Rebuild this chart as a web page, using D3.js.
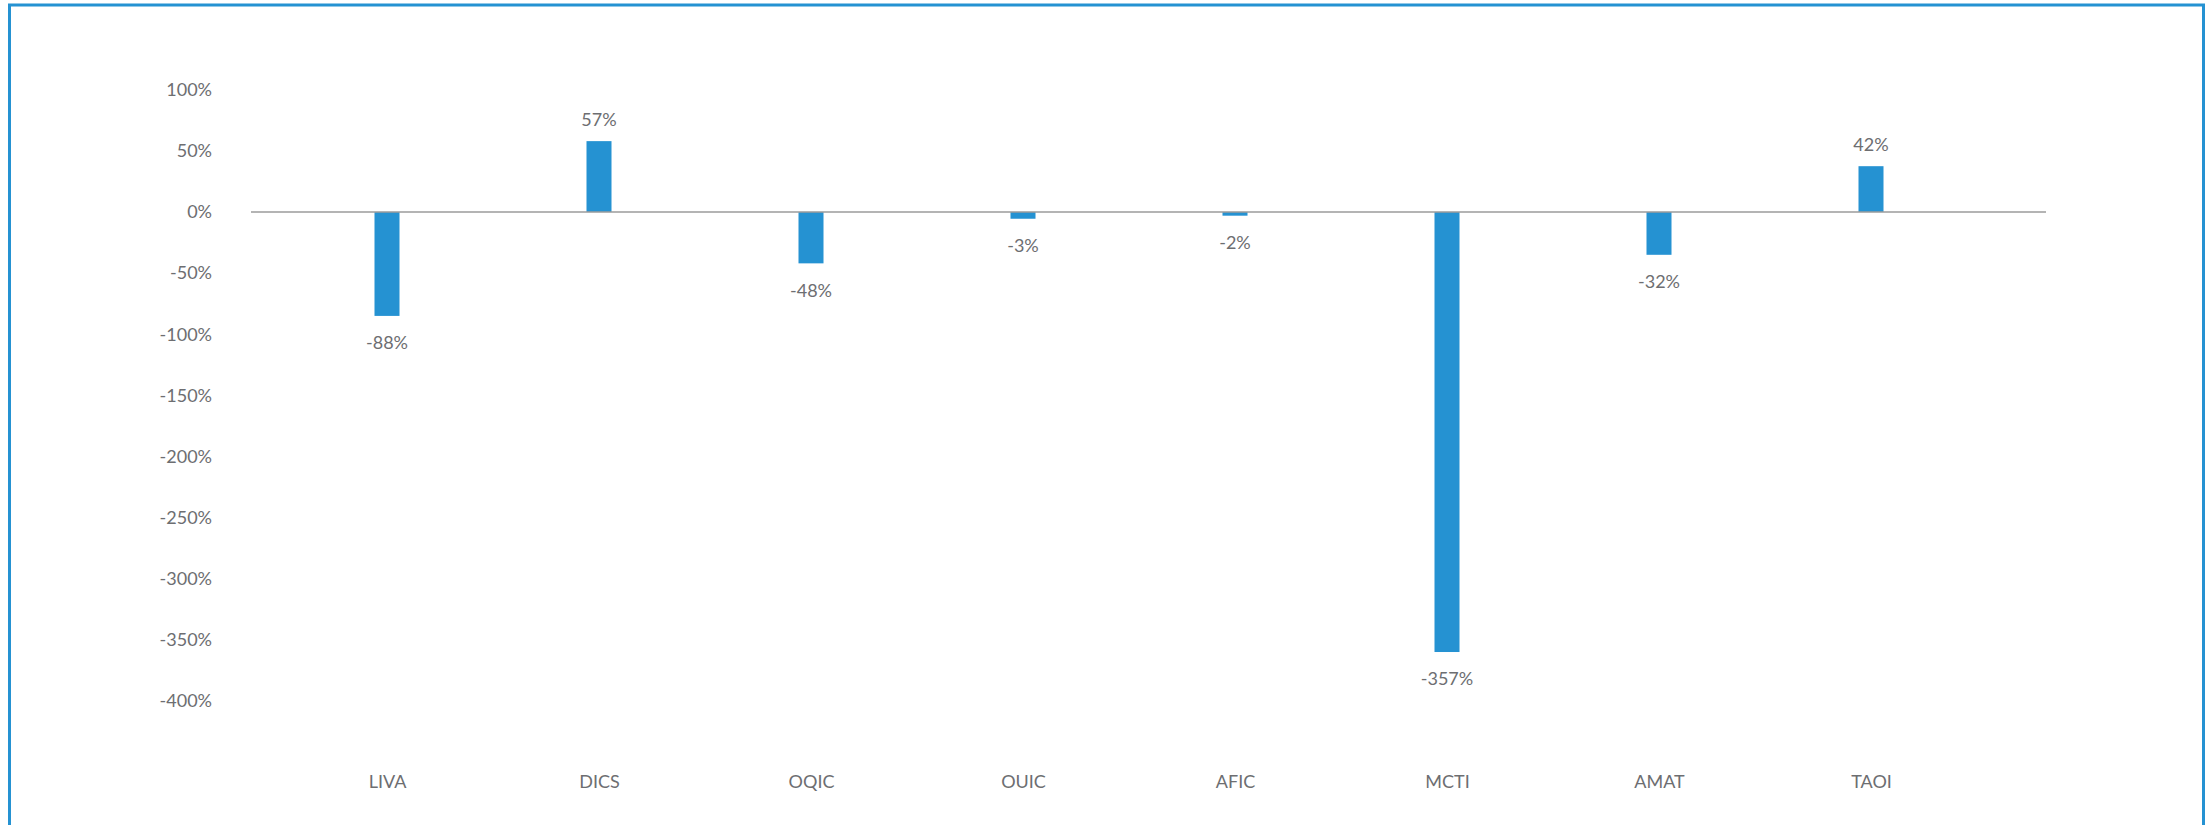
<!DOCTYPE html>
<html>
<head>
<meta charset="utf-8">
<script src="https://cdn.jsdelivr.net/npm/d3@7"></script>
<style>
  html, body { margin: 0; padding: 0; background: #ffffff; }
  svg { display: block; }
  text { font-family: Lato, "Open Sans", sans-serif; fill: #6d6e71; }
</style>
</head>
<body>
<svg id="chart" width="2208" height="825"></svg>
<script>
// ---- data ----
const categories = ["LIVA", "DICS", "OQIC", "OUIC", "AFIC", "MCTI", "AMAT", "TAOI"];
const barValues = [-85, 58, -42, -5.5, -3, -360, -35, 37.5];
const labelTexts = ["-88%", "57%", "-48%", "-3%", "-2%", "-357%", "-32%", "42%"];
const yTicks = [100, 50, 0, -50, -100, -150, -200, -250, -300, -350, -400];

// ---- layout ----
const W = 2208, H = 825;
const svg = d3.select("#chart");

// frame
svg.append("rect")
  .attr("x", 9.5).attr("y", 5)
  .attr("width", 2194).attr("height", 900)
  .attr("fill", "none")
  .attr("stroke", "#2592d2")
  .attr("stroke-width", 3);

const x = d3.scalePoint().domain(categories).range([281, 1977]).padding(0.5);
const y = d3.scaleLinear().domain([-400, 100]).range([700.9, 89.8]);
const barW = 25;

// y axis labels
const yAxis = svg.append("g")
  .attr("transform", "translate(212,0)")
  .call(d3.axisLeft(y).tickValues(yTicks).tickSize(0).tickPadding(0)
        .tickFormat(d => d + "%"));
yAxis.select(".domain").remove();
yAxis.selectAll("text")
  .style("font-family", "Lato, 'Open Sans', sans-serif")
  .style("font-size", "18px")
  .attr("fill", "#6d6e71");

// x axis labels
const xAxis = svg.append("g")
  .attr("transform", "translate(0,775)")
  .call(d3.axisBottom(x).tickSize(0).tickPadding(0));
xAxis.select(".domain").remove();
xAxis.selectAll("text")
  .style("font-family", "Lato, 'Open Sans', sans-serif")
  .style("font-size", "18px")
  .attr("fill", "#6d6e71");

// bars
svg.append("g").selectAll("rect")
  .data(categories)
  .join("rect")
  .attr("x", (d) => x(d) - barW / 2)
  .attr("width", barW)
  .attr("y", (d, i) => Math.min(y(0), y(barValues[i])))
  .attr("height", (d, i) => Math.abs(y(barValues[i]) - y(0)))
  .attr("fill", "#2592d2");

// zero line
svg.append("line")
  .attr("x1", 251).attr("x2", 2046)
  .attr("y1", y(0)).attr("y2", y(0))
  .attr("stroke", "#9b9b9b")
  .attr("stroke-width", 1.6);

// data labels
svg.append("g").selectAll("text")
  .data(categories)
  .join("text")
  .attr("x", d => x(d))
  .attr("y", (d, i) => barValues[i] < 0 ? y(barValues[i]) + 27 : y(barValues[i]) - 21)
  .attr("dy", "0.35em")
  .attr("text-anchor", "middle")
  .style("font-size", "18px")
  .text((d, i) => labelTexts[i]);
</script>
</body>
</html>
